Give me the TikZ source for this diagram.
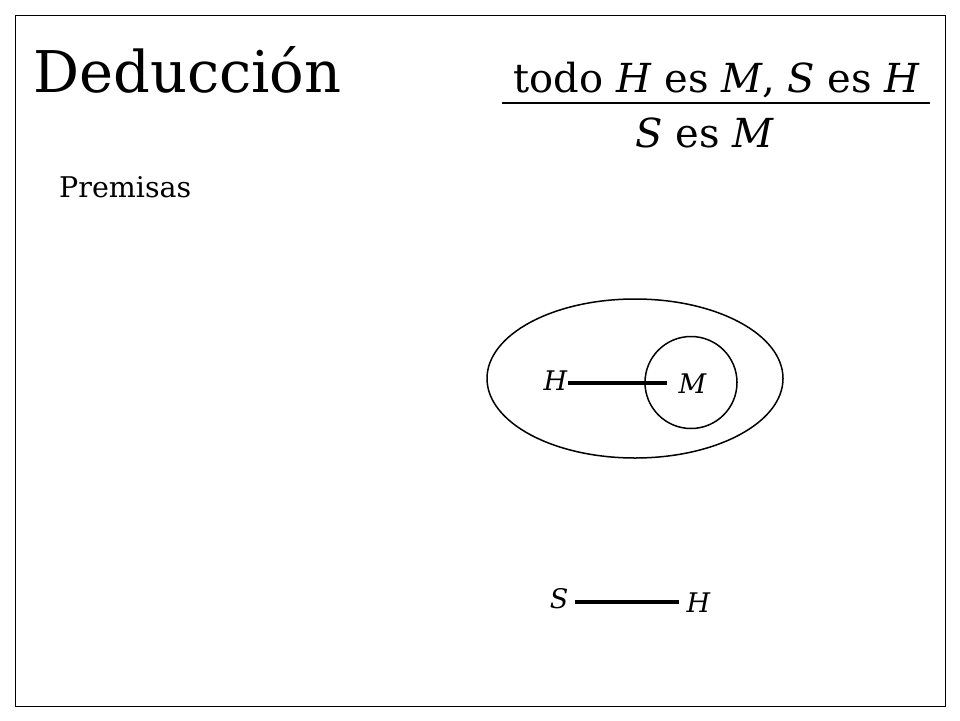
\documentclass[tikz,border=0pt]{standalone}
\usepackage{fontspec}
\setmainfont{DejaVu Serif}
\usepackage{tikz}
\usetikzlibrary{shapes}

\tikzset{
    letra/.style={anchor=base, inner ysep=0pt, font=\fontsize{27}{32}\selectfont\itshape},
    barra/.style={line width=4pt},
    conjunto/.style={line width=1.5pt}
}

\begin{document}
\begin{tikzpicture}[x=1pt, y=-1pt]

    \useasboundingbox (0,0) rectangle (960,720);
    \draw[line width=1pt] (15,15) rectangle (945,706);

    \draw(33,92) node[anchor=base west, inner sep=0pt] (titulo) {\fontsize{57.5}{66}\selectfont Deducción};
    \draw(717,92) node[anchor=base] (prem) {\fontsize{40}{48}\selectfont todo \textit{H} es \textit{M}, \textit{S} es \textit{H}};
    \draw(705,147) node[anchor=base] (concl) {\fontsize{40}{48}\selectfont \textit{S} es \textit{M}};
    \draw[line width=2pt] (502,103) -- (930,103);
    \draw(59,197) node[anchor=base west, inner sep=0pt] (premisas) {\fontsize{28.5}{34}\selectfont Premisas};

    \draw[conjunto] (635,378.5) ellipse (148 and 79.5);
    \draw[conjunto] (691,382.5) circle (46);
    \draw(555.5,390) node[letra, inner xsep=1pt] (h1) {H};
    \draw(692.5,393) node[letra, inner xsep=11pt] (m1) {M};
    \draw[barra] (h1.east |- m1.west) -- (m1.west);

    \draw(559,608) node[letra, inner xsep=7pt] (s2) {S};
    \draw(698.5,612) node[letra, inner xsep=8pt] (h2) {H};
    \draw[barra] (s2.east |- h2.west) -- (h2.west);

\end{tikzpicture}
\end{document}
